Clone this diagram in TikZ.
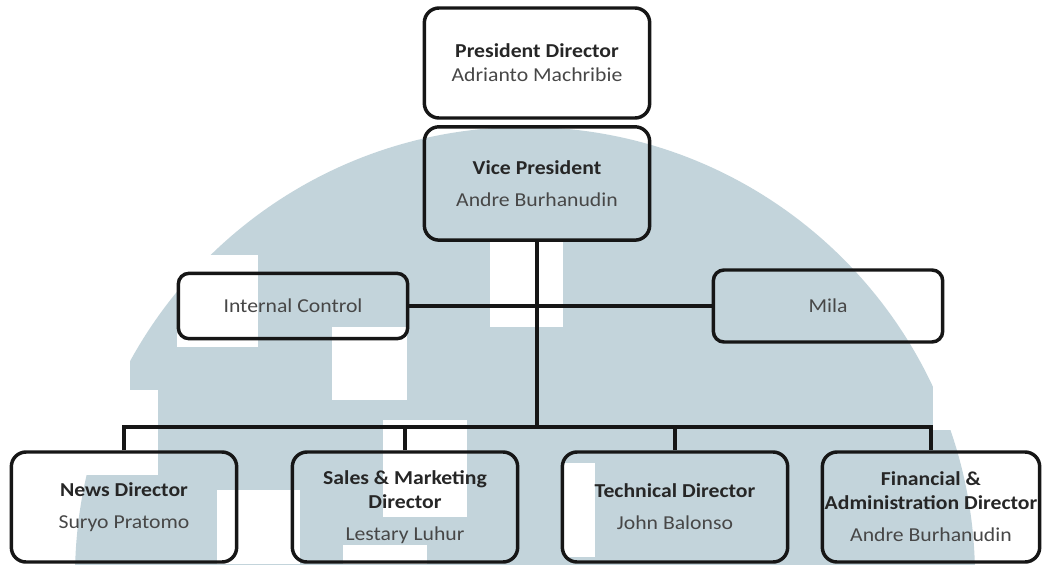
\documentclass[tikz,border=0pt]{standalone}
\usepackage{fontspec}
\setmainfont{Carlito}[FakeStretch=1.1]
\usetikzlibrary{positioning}
\definecolor{wmark}{HTML}{C3D4DB}
\definecolor{ink}{HTML}{161616}
\newcommand{\nm}[1]{\textcolor{black!72}{#1}}

\begin{document}
\begin{tikzpicture}[x=0.75pt, y=-0.75pt, font=\fontsize{14.8}{18}\selectfont,
    box/.style={draw=ink, line width=2.6pt, rounded corners=11pt, align=center,
        inner sep=1pt, text=black!85, minimum width=169pt, minimum height=82.5pt},
    side/.style={box, rounded corners=8pt, minimum width=172pt, minimum height=49pt},
    link/.style={draw=ink, line width=2.4pt}]
  \useasboundingbox (0,0) rectangle (1044,564);

  % logo in the back
  \begin{scope}
    \clip (0,0) rectangle (1044,564);
    \fill[wmark] (525,577) circle (450);
    \fill[white] (177,255) rectangle (258,347);
    \fill[white] (60,347) rectangle (130,390);
    \fill[white] (60,390) rectangle (158,475);
    \fill[white] (332,327) rectangle (407,400);
    \fill[white] (490,242) rectangle (563,327);
    \fill[white] (383,420) rectangle (467,517);
    \fill[white] (563,463) rectangle (595,557);
    \fill[white] (217,490) rectangle (300,564);
    \fill[white] (343,545) rectangle (427,564);
    \fill[white] (933,380) rectangle (1044,430);
  \end{scope}

  \node[box] (pd) at (537,63) {\textbf{President Director}\\\nm{Adrianto Machribie}};
  \node[box, below=4pt of pd, minimum height=85pt] (vp) {\textbf{Vice President}\\[6pt]\nm{Andre Burhanudin}};
  \node[side] (ic) at (293,306) {\nm{Internal Control}};
  \node[side, minimum height=54pt] (mila) at (828,306) {\nm{Mila}};

  \node[box] (news) at (124,507) {\textbf{News Director}\\[6pt]\nm{Suryo Pratomo}};
  \node[box] (sales) at (405,507) {\textbf{Sales \& Marketing}\\\textbf{Director}\\[6pt]\nm{Lestary Luhur}};
  \node[box] (tech) at (675,507) {\textbf{Technical Director}\\[6pt]\nm{John Balonso}};
  \node[box, minimum width=163pt] (fin) at (931,507) {\textbf{Financial \&}\\\textbf{Administration Director}\\[6pt]\nm{Andre Burhanudin}};

  \coordinate (bus) at (537,427);
  \path[link]
     (vp) edge (bus)
     (ic) edge (mila);
  \draw[link] (news.north) |- (bus) -| (fin.north);
  \draw[link] (sales.north) -- (sales.north |- bus);
  \draw[link] (tech.north) -- (tech.north |- bus);
\end{tikzpicture}
\end{document}
